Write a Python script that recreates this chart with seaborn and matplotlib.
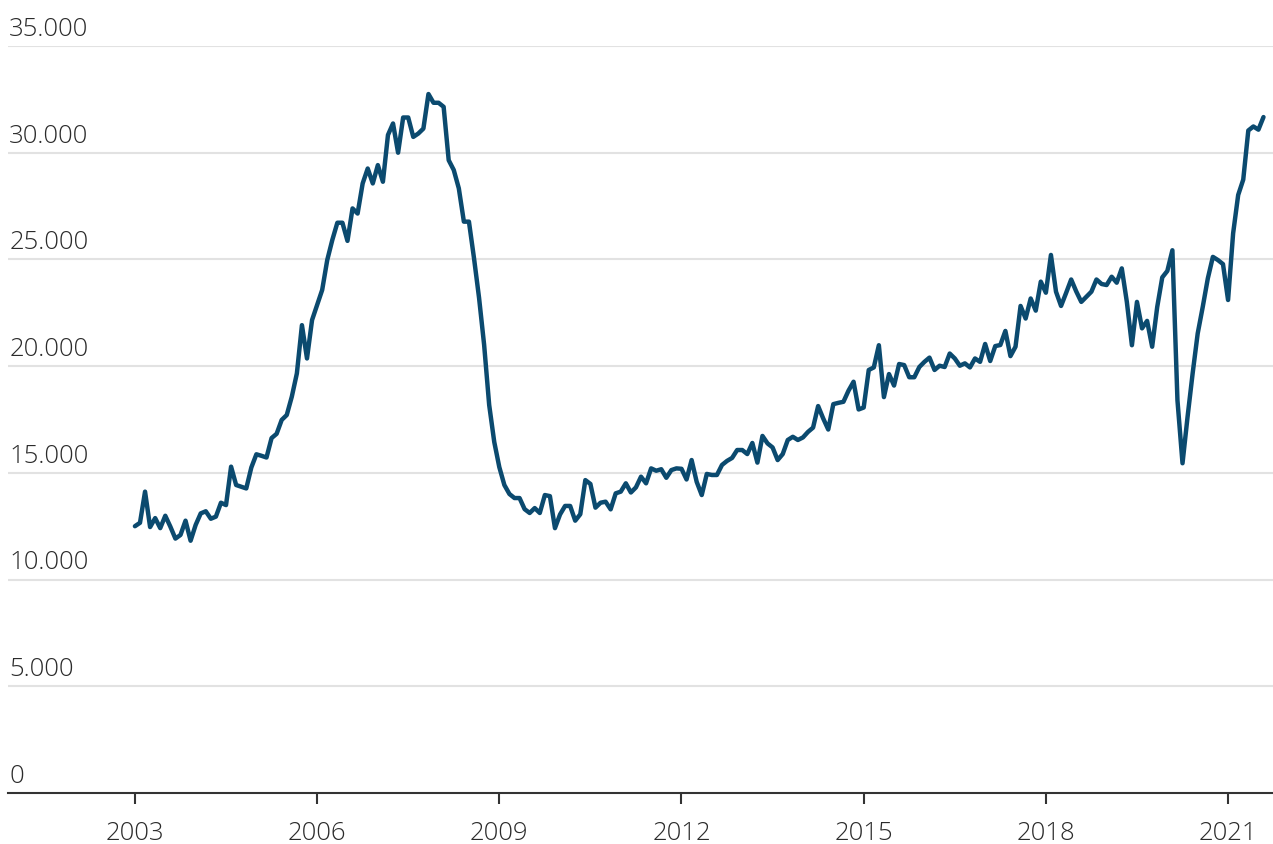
import matplotlib
matplotlib.use("Agg")
import matplotlib.pyplot as plt
import matplotlib.transforms as mtransforms
import numpy as np
import pandas as pd
import seaborn as sns

# monthly values, Jan 2003 .. Aug 2021
v2003 = [12500, 12660, 14120, 12460, 12880, 12410, 12990, 12480, 11920, 12090, 12760, 11820]
v2004 = [12560, 13100, 13200, 12850, 12950, 13600, 13490, 15290, 14430, 14350, 14270, 15250]
v2005 = [15870, 15800, 15720, 16630, 16830, 17480, 17710, 18570, 19660, 21920, 20360, 22160]
v2006 = [22860, 23570, 24970, 25910, 26720, 26720, 25870, 27390, 27150, 28560, 29260, 28560]
v2007 = [29420, 28640, 30830, 31370, 30000, 31650, 31650, 30740, 30900, 31130, 32750, 32340]
v2008 = [32340, 32150, 29650, 29190, 28330, 26770, 26770, 25060, 23200, 21000, 18180, 16450]
v2009 = [15270, 14430, 14010, 13820, 13820, 13300, 13120, 13350, 13120, 13960, 13910, 12410]
v2010 = [13050, 13450, 13450, 12760, 13060, 14660, 14480, 13370, 13600, 13650, 13290, 14040]
v2011 = [14120, 14510, 14080, 14320, 14820, 14510, 15210, 15100, 15170, 14770, 15130, 15210]
v2012 = [15190, 14690, 15600, 14580, 13960, 14950, 14900, 14900, 15370, 15560, 15700, 16070]
v2013 = [16070, 15880, 16400, 15480, 16730, 16380, 16190, 15600, 15880, 16540, 16690, 16540]
v2014 = [16660, 16920, 17120, 18130, 17550, 17030, 18220, 18280, 18330, 18850, 19270, 17970]
v2015 = [18060, 19820, 19940, 20980, 18550, 19630, 19090, 20100, 20050, 19480, 19480, 19960]
v2016 = [20200, 20400, 19820, 20020, 19960, 20590, 20360, 20020, 20130, 19940, 20360, 20200]
v2017 = [21040, 20240, 20940, 20990, 21650, 20470, 20910, 22820, 22230, 23170, 22600, 23960]
v2018 = [23440, 25210, 23490, 22820, 23430, 24060, 23500, 23010, 23250, 23490, 24060, 23850]
v2019 = [23800, 24190, 23910, 24580, 23010, 20980, 23010, 21770, 22120, 20910, 22770, 24160]
v2020 = [24460, 25430, 18400, 15450, 17630, 19660, 21530, 22780, 24110, 25120, 24970, 24780]
v2021 = [23100, 26220, 28020, 28740, 31040, 31230, 31080, 31670]

values = (v2003 + v2004 + v2005 + v2006 + v2007 + v2008 + v2009 + v2010 + v2011
          + v2012 + v2013 + v2014 + v2015 + v2016 + v2017 + v2018 + v2019 + v2020 + v2021)
years = 2003 + np.arange(len(values)) / 12
df = pd.DataFrame({"year": years, "value": values})

year_ticks = [2003, 2006, 2009, 2012, 2015, 2018, 2021]
y_ticks = [0, 5000, 10000, 15000, 20000, 25000, 30000, 35000]
y_labels = ["0", "5.000", "10.000", "15.000", "20.000", "25.000", "30.000", "35.000"]

sns.set_style("white")
plt.rcParams["font.family"] = ["Open Sans", "DejaVu Sans"]

fig = plt.figure(figsize=(12.73, 8.44), dpi=100)
ax = fig.add_axes([8 / 1273, 51 / 844, 1265 / 1273, 747 / 844])

sns.lineplot(data=df, x="year", y="value", ax=ax, color="#0b4a6f", linewidth=3.2)

ax.set_xlim(2000.91, 2021.74)
ax.set_ylim(0, 35000)
ax.set_xlabel("")
ax.set_ylabel("")

# gridlines and y labels sitting on top of them
for v in y_ticks[1:]:
    ax.axhline(v, color="#e2e2e2", linewidth=1.5, zorder=0)
off = mtransforms.offset_copy(ax.transData, fig=fig, x=0, y=3, units="points")
for v, lab in zip(y_ticks, y_labels):
    ax.text(2000.93, v, lab, transform=off, ha="left", va="bottom",
            fontsize=18.5, fontweight="light", color="#2b2b2b", clip_on=False)
ax.set_yticks([])

for s in ["top", "right", "left"]:
    ax.spines[s].set_visible(False)
ax.spines["bottom"].set_color("#333333")
ax.spines["bottom"].set_linewidth(1.5)

ax.set_xticks(year_ticks)
ax.set_xticklabels([str(y) for y in year_ticks], fontweight="light")
ax.tick_params(axis="x", direction="out", length=8, width=1.5, color="#333333",
               labelsize=18.5, labelcolor="#2b2b2b", pad=12, bottom=True)

fig.savefig("out.png", dpi=100)
